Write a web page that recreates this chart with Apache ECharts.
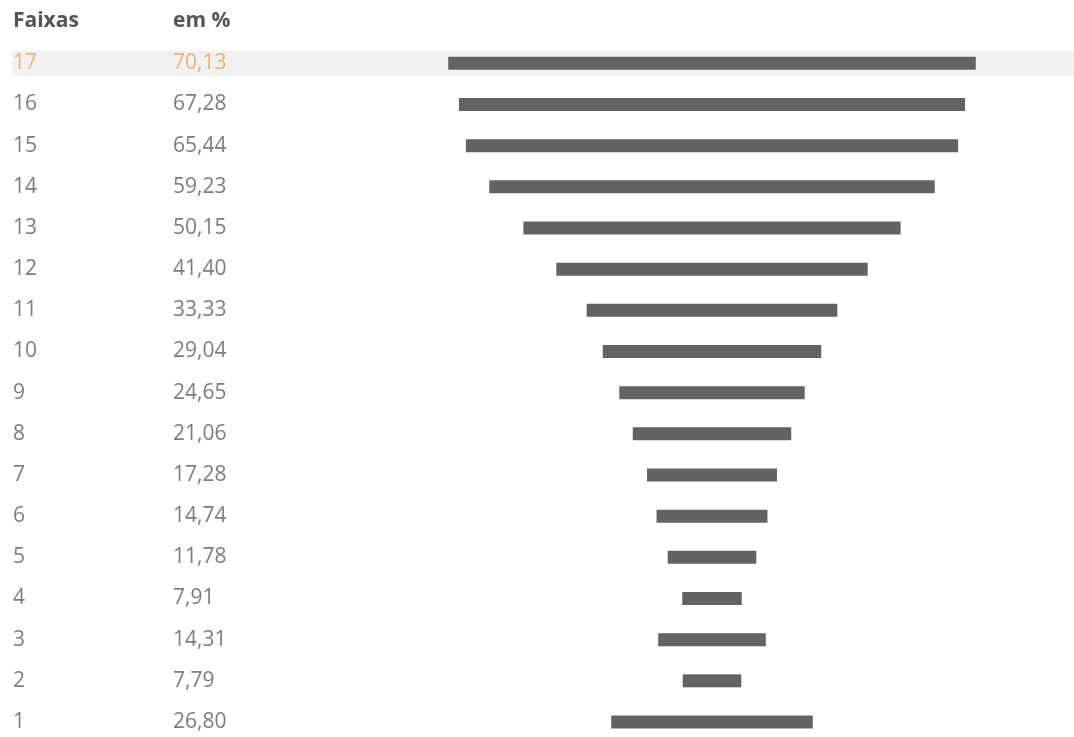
<!DOCTYPE html>
<html><head><meta charset="utf-8">
<script src="https://cdn.jsdelivr.net/npm/echarts@6/dist/echarts.min.js"></script>
<style>html,body{margin:0;padding:0;background:#fff}#c{width:1074px;height:737px}</style>
</head><body><div id="c"></div>
<script>
const faixas = ['1','2','3','4','5','6','7','8','9','10','11','12','13','14','15','16','17'];
const valores = [26.80,7.79,14.31,7.91,11.78,14.74,17.28,21.06,24.65,29.04,33.33,41.40,50.15,59.23,65.44,67.28,70.13];
const valorLabels = ['26,80','7,79','14,31','7,91','11,78','14,74','17,28','21,06','24,65','29,04','33,33','41,40','50,15','59,23','65,44','67,28','70,13'];
const headerLabels = ['Faixas','em %'];
const destaque = '17';

const chart = echarts.init(document.getElementById('c'));
const FONT = '"Open Sans", sans-serif';
const gridTop = 42.7, gridH = 17*41.17;
const hiIdx = faixas.indexOf(destaque);
chart.setOption({
  animation:false,
  title:{left:13,top:11,padding:0,text:'{a|'+headerLabels[0]+'}{b|'+headerLabels[1]+'}',
    textStyle:{rich:{
      a:{width:160,fontFamily:FONT,fontWeight:'bold',fontSize:21,color:'#555'},
      b:{fontFamily:FONT,fontWeight:'bold',fontSize:21,color:'#555'}}}},
  grid:[
    {left:373.5,width:677,top:gridTop,height:gridH,containLabel:false,outerBoundsMode:'none'},
    {left:12,right:0,top:gridTop,height:gridH,outerBoundsMode:'none'}
  ],
  xAxis:[
    {gridIndex:0,type:'value',min:-45,max:45,show:false},
    {gridIndex:1,type:'value',min:0,max:1,show:false}
  ],
  yAxis:[
    {gridIndex:0,type:'category',data:faixas,axisLine:{show:false},axisTick:{show:false},splitLine:{show:false},
     axisLabel:{align:'left',margin:360.5,
       formatter:(v,i)=> (i===hiIdx? '{c|'+v+'}{d|'+valorLabels[i]+'}' : '{a|'+v+'}{b|'+valorLabels[i]+'}'),
       rich:{
         a:{width:160,fontFamily:FONT,fontSize:21,color:'#7d7d7d'},
         b:{fontFamily:FONT,fontSize:21,color:'#7d7d7d'},
         c:{width:160,fontFamily:FONT,fontSize:21,color:'#f2b075'},
         d:{fontFamily:FONT,fontSize:21,color:'#f2b075'}}}},
    {gridIndex:1,type:'category',data:faixas,show:false}
  ],
  series:[
    {type:'bar',xAxisIndex:1,yAxisIndex:1,barWidth:25,z:0,silent:true,
     itemStyle:{color:'#f1f1f1'},
     data:faixas.map((f)=> f===destaque?1:null)},
    {type:'bar',xAxisIndex:0,yAxisIndex:0,barWidth:13,barGap:'-100%',z:2,
     itemStyle:{color:'#636363'},data:valores.map(v=>-v/2)},
    {type:'bar',xAxisIndex:0,yAxisIndex:0,barWidth:13,barGap:'-100%',z:2,
     itemStyle:{color:'#636363'},data:valores.map(v=>v/2)}
  ]
});
</script></body></html>
